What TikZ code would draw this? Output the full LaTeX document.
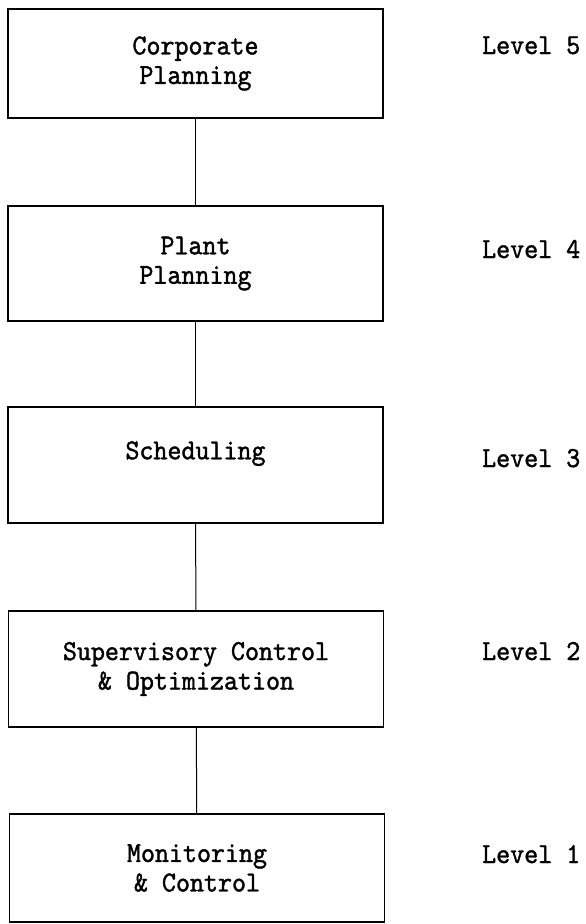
\documentclass[tikz,border=0pt]{standalone}
\usepackage{fontspec}
\usetikzlibrary{positioning}

\newfontfamily\stagefont{lmmono10-regular}[Extension=.otf, FakeBold=1.3, FakeStretch=0.92]

\tikzset{
  stage/.style={draw, line width=1.4pt, minimum width=375pt, inner sep=0pt,
    align=center, font=\stagefont\fontsize{29}{29.5}\selectfont},
  lvl/.style={anchor=base west, inner sep=0pt,
    font=\stagefont\fontsize{29}{29.5}\selectfont},
  link/.style={line width=1pt}
}

\begin{document}
\begin{tikzpicture}[x=1pt, y=-1pt]
    % page frame
    \useasboundingbox (0,0) rectangle (586,924);

    % Level 5
    \node[stage, minimum height=109pt] (corp) at (195.5,63.5) {Corporate\\Planning};
    \node[lvl] (lvl5) at (482,54) {Level 5};

    % Level 4
    \node[stage, minimum height=115pt] (plant) at (195.5,263.5) {Plant\\Planning};
    \node[lvl] (lvl4) at (482,258) {Level 4};

    % Level 3
    \node[stage, minimum height=116pt] (sched) at (195.5,465) {Scheduling\\\mbox{}};
    \node[lvl] (lvl3) at (482,467) {Level 3};

    % Level 2
    \node[stage, minimum height=116pt] (super) at (196,669) {Supervisory Control\\\& Optimization};
    \node[lvl] (lvl2) at (482,660) {Level 2};

    % Level 1
    \node[stage, minimum height=108pt] (monit) at (197,868) {Monitoring\\\& Control};
    \node[lvl] (lvl1) at (482,863) {Level 1};

    % links between the levels
    \draw[link] (corp) -- (plant);
    \draw[link] (plant) -- (sched);
    \draw[link] (sched) -- (super);
    \draw[link] (super) -- (monit);
\end{tikzpicture}
\end{document}
